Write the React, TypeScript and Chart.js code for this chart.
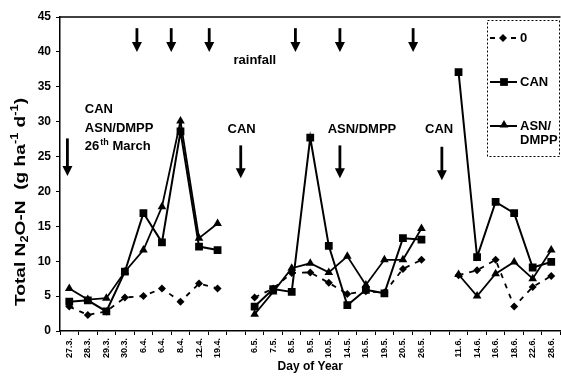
import { useEffect, useRef } from "react";
import { Chart, registerables } from "chart.js";

Chart.register(...registerables);

const labels = [
  "27.3.", "28.3.", "29.3.", "30.3.", "6.4.", "6.4.", "8.4.", "12.4.", "19.4.", "",
  "6.5.", "7.5.", "8.5.", "9.5.", "10.5.", "14.5.", "16.5.", "19.5.", "20.5.", "26.5.", "",
  "11.6.", "14.6.", "16.6.", "18.6.", "22.6.", "28.6.",
];
const control = [3.5, 2.3, 2.8, 4.8, 5.0, 6.1, 4.2, 6.8, 6.1, null, 4.8, 6.1, 8.3, 8.4, 6.9, 5.3, 5.7, 5.5, 8.9, 10.2, null, 8.0, 8.7, 10.2, 3.5, 6.3, 7.9];
const can = [4.2, 4.4, 2.8, 8.5, 16.9, 12.7, 28.6, 12.1, 11.6, null, 3.5, 6.0, 5.6, 27.7, 12.2, 3.7, 5.9, 5.4, 13.3, 13.1, null, 37.1, 10.6, 18.5, 16.9, 9.1, 9.9];
const asn = [6.1, 4.5, 4.7, 8.5, 11.6, 17.8, 30.1, 13.3, 15.4, null, 2.4, 5.6, 9.0, 9.7, 8.4, 10.7, 6.6, 10.2, 10.2, 14.7, null, 8.1, 5.0, 8.2, 9.9, 7.5, 11.6];

const yMin = 0;
const yMax = 45;
const yStep = 5;

// annotation anchors (category index, value)
const rainfallArrows = [3.65, 5.5, 7.55, 12.2, 14.6, 18.55];
const rainfallRange = [43.4, 40.0];
const rainfallText = { x: 8.86, y: 38.8, text: "rainfall" };
const fertArrows = [
  { x: -0.1, from: 27.6, to: 22.2 },
  { x: 9.25, from: 26.6, to: 21.9 },
  { x: 14.6, from: 26.6, to: 21.9 },
  { x: 20.1, from: 26.4, to: 21.6 },
];
const fertTexts = [
  { x: 0.84, y: 31.7, text: "CAN", align: "left" },
  { x: 0.84, y: 29.1, text: "ASN/DMPP", align: "left" },
  { x: 9.3, y: 28.9, text: "CAN", align: "center" },
  { x: 13.94, y: 28.9, text: "ASN/DMPP", align: "left" },
  { x: 19.95, y: 28.9, text: "CAN", align: "center" },
];
const dateText = { x: 0.84, y: 26.4 };

const FONT = "Arial, 'Liberation Sans', sans-serif";

function drawMarker(ctx: CanvasRenderingContext2D, style: string, x: number, y: number, r: number) {
  ctx.beginPath();
  if (style === "rect") {
    const s = r * Math.SQRT1_2;
    ctx.rect(x - s, y - s, 2 * s, 2 * s);
  } else if (style === "triangle") {
    ctx.moveTo(x, y - r);
    ctx.lineTo(x + r * 0.866, y + r * 0.5);
    ctx.lineTo(x - r * 0.866, y + r * 0.5);
    ctx.closePath();
  } else {
    ctx.moveTo(x, y - r);
    ctx.lineTo(x + r, y);
    ctx.lineTo(x, y + r);
    ctx.lineTo(x - r, y);
    ctx.closePath();
  }
  ctx.fill();
}

const annotPlugin = {
  id: "annot",
  afterDatasetsDraw(chart: any) {
    const { ctx, chartArea, scales } = chart;
    const xs = scales.x;
    const ys = scales.y;
    ctx.save();
    ctx.strokeStyle = "#000";
    ctx.fillStyle = "#000";
    // top frame
    ctx.lineWidth = 1.5;
    ctx.beginPath();
    ctx.moveTo(chartArea.left, chartArea.top);
    ctx.lineTo(chartArea.right, chartArea.top);
    ctx.stroke();

    const arrow = (xi: number, v1: number, v2: number) => {
      const px = xs.getPixelForValue(xi);
      const p1 = ys.getPixelForValue(v1);
      const p2 = ys.getPixelForValue(v2);
      ctx.lineWidth = 2.8;
      ctx.beginPath();
      ctx.moveTo(px, p1);
      ctx.lineTo(px, p2 - 8);
      ctx.stroke();
      ctx.beginPath();
      ctx.moveTo(px - 5, p2 - 10);
      ctx.lineTo(px + 5, p2 - 10);
      ctx.lineTo(px, p2);
      ctx.closePath();
      ctx.fill();
    };
    rainfallArrows.forEach((xi) => arrow(xi, rainfallRange[0], rainfallRange[1]));
    fertArrows.forEach((a) => arrow(a.x, a.from, a.to));

    ctx.textBaseline = "middle";
    ctx.font = `bold 13px ${FONT}`;
    ctx.textAlign = "left";
    ctx.fillText(rainfallText.text, xs.getPixelForValue(rainfallText.x), ys.getPixelForValue(rainfallText.y));
    fertTexts.forEach((t) => {
      ctx.textAlign = t.align as CanvasTextAlign;
      ctx.fillText(t.text, xs.getPixelForValue(t.x), ys.getPixelForValue(t.y));
    });
    // 26th March
    ctx.textAlign = "left";
    let dx = xs.getPixelForValue(dateText.x);
    const dy = ys.getPixelForValue(dateText.y);
    ctx.fillText("26", dx, dy);
    dx += ctx.measureText("26").width + 1;
    ctx.font = `bold 9px ${FONT}`;
    ctx.fillText("th", dx, dy - 4);
    dx += ctx.measureText("th").width;
    ctx.font = `bold 13px ${FONT}`;
    ctx.fillText(" March", dx, dy);
    ctx.restore();
  },
  afterDraw(chart: any) {
    const { ctx } = chart;
    ctx.save();
    ctx.fillStyle = "#000";
    ctx.strokeStyle = "#000";
    // y-axis title with sub/superscripts
    const parts: [string, number, number][] = [
      ["Total N", 15, 0],
      ["2", 10, 4],
      ["O-N  (g ha", 15, 0],
      ["-1", 10, -6],
      [" d", 15, 0],
      ["-1", 10, -6],
      [")", 15, 0],
    ];
    let total = 0;
    parts.forEach(([t, s]) => {
      ctx.font = `bold ${s}px ${FONT}`;
      total += ctx.measureText(t).width;
    });
    const target = 208;
    ctx.translate(21, 202);
    ctx.rotate(-Math.PI / 2);
    ctx.scale(target / total, 1);
    ctx.textBaseline = "middle";
    ctx.textAlign = "left";
    let px = -total / 2;
    parts.forEach(([t, s, off]) => {
      ctx.font = `bold ${s}px ${FONT}`;
      ctx.fillText(t, px, off);
      px += ctx.measureText(t).width;
    });
    ctx.restore();

    // legend
    ctx.save();
    ctx.strokeStyle = "#000";
    ctx.fillStyle = "#000";
    ctx.lineWidth = 1;
    ctx.setLineDash([2, 2]);
    ctx.strokeRect(487.5, 20.5, 72, 136);
    ctx.setLineDash([]);
    ctx.font = `bold 13px ${FONT}`;
    ctx.textBaseline = "middle";
    ctx.textAlign = "left";
    // control row
    ctx.lineWidth = 2;
    let y = 38;
    ctx.beginPath();
    ctx.moveTo(490, y);
    ctx.lineTo(495, y);
    ctx.moveTo(511, y);
    ctx.lineTo(516, y);
    ctx.stroke();
    drawMarker(ctx, "rectRot", 503, y, 4);
    ctx.fillText("0", 520, y);
    // CAN row
    y = 82;
    ctx.beginPath();
    ctx.moveTo(490, y);
    ctx.lineTo(517, y);
    ctx.stroke();
    drawMarker(ctx, "rect", 504, y, 5.5);
    ctx.fillText("CAN", 520, y);
    // ASN row
    y = 126;
    ctx.beginPath();
    ctx.moveTo(490, y);
    ctx.lineTo(517, y);
    ctx.stroke();
    drawMarker(ctx, "triangle", 504, y - 1, 5);
    ctx.fillText("ASN/", 520, y);
    ctx.fillText("DMPP", 520, y + 14);
    ctx.restore();
  },
};

export default function App() {
  const ref = useRef<HTMLCanvasElement | null>(null);
  useEffect(() => {
    const canvas = ref.current;
    if (!canvas) return;
    const chart = new Chart(canvas, {
      type: "line",
      data: {
        labels,
        datasets: [
          {
            label: "ASN/DMPP",
            data: asn,
            borderColor: "#000",
            backgroundColor: "#000",
            borderWidth: 1.8,
            pointStyle: "triangle",
            pointRadius: 5,
            pointBorderWidth: 0,
            spanGaps: false,
            tension: 0,
          },
          {
            label: "CAN",
            data: can,
            borderColor: "#000",
            backgroundColor: "#000",
            borderWidth: 2,
            pointStyle: "rect",
            pointRadius: 5.5,
            pointBorderWidth: 0,
            spanGaps: false,
            tension: 0,
          },
          {
            label: "0",
            data: control,
            borderColor: "#000",
            backgroundColor: "#000",
            borderWidth: 1.8,
            borderDash: [5, 6],
            pointStyle: "rectRot",
            pointRadius: 4,
            pointBorderWidth: 0,
            spanGaps: false,
            tension: 0,
          },
        ],
      },
      options: {
        animation: false,
        responsive: false,
        devicePixelRatio: 1,
        layout: { padding: { top: 17, right: 1, left: 0, bottom: 0 } },
        plugins: { legend: { display: false }, tooltip: { enabled: false } },
        scales: {
          x: {
            type: "category",
            offset: true,
            grid: { display: true, drawOnChartArea: false, offset: true, tickLength: 4, color: "#000", lineWidth: 1 },
            border: { display: true, color: "#000", width: 1.5 },
            ticks: {
              autoSkip: false,
              maxRotation: 90,
              minRotation: 90,
              padding: 3,
              color: "#000",
              font: { family: FONT, size: 9, weight: "bold" },
            },
            title: {
              display: true,
              text: "Day of Year",
              color: "#000",
              font: { family: FONT, size: 12, weight: "bold" },
              padding: { top: 0, bottom: 2 },
            },
            afterFit(scale: any) {
              scale.height = 45;
            },
          },
          y: {
            min: yMin,
            max: yMax,
            grid: { display: true, drawOnChartArea: false, tickLength: 4, color: "#000", lineWidth: 1 },
            border: { display: true, color: "#000", width: 1.5 },
            ticks: {
              stepSize: yStep,
              padding: 5,
              color: "#000",
              font: { family: FONT, size: 12, weight: "bold" },
            },
            afterFit(scale: any) {
              scale.width = 60;
            },
          },
        },
      },
      plugins: [annotPlugin],
    } as any);
    return () => chart.destroy();
  }, []);

  return (
    <div style={{ position: "fixed", left: 0, top: 0, width: 561, height: 376, overflow: "hidden", background: "#fff" }}>
      <canvas ref={ref} width={566} height={376} style={{ display: "block", width: 566, height: 376 }} />
    </div>
  );
}
